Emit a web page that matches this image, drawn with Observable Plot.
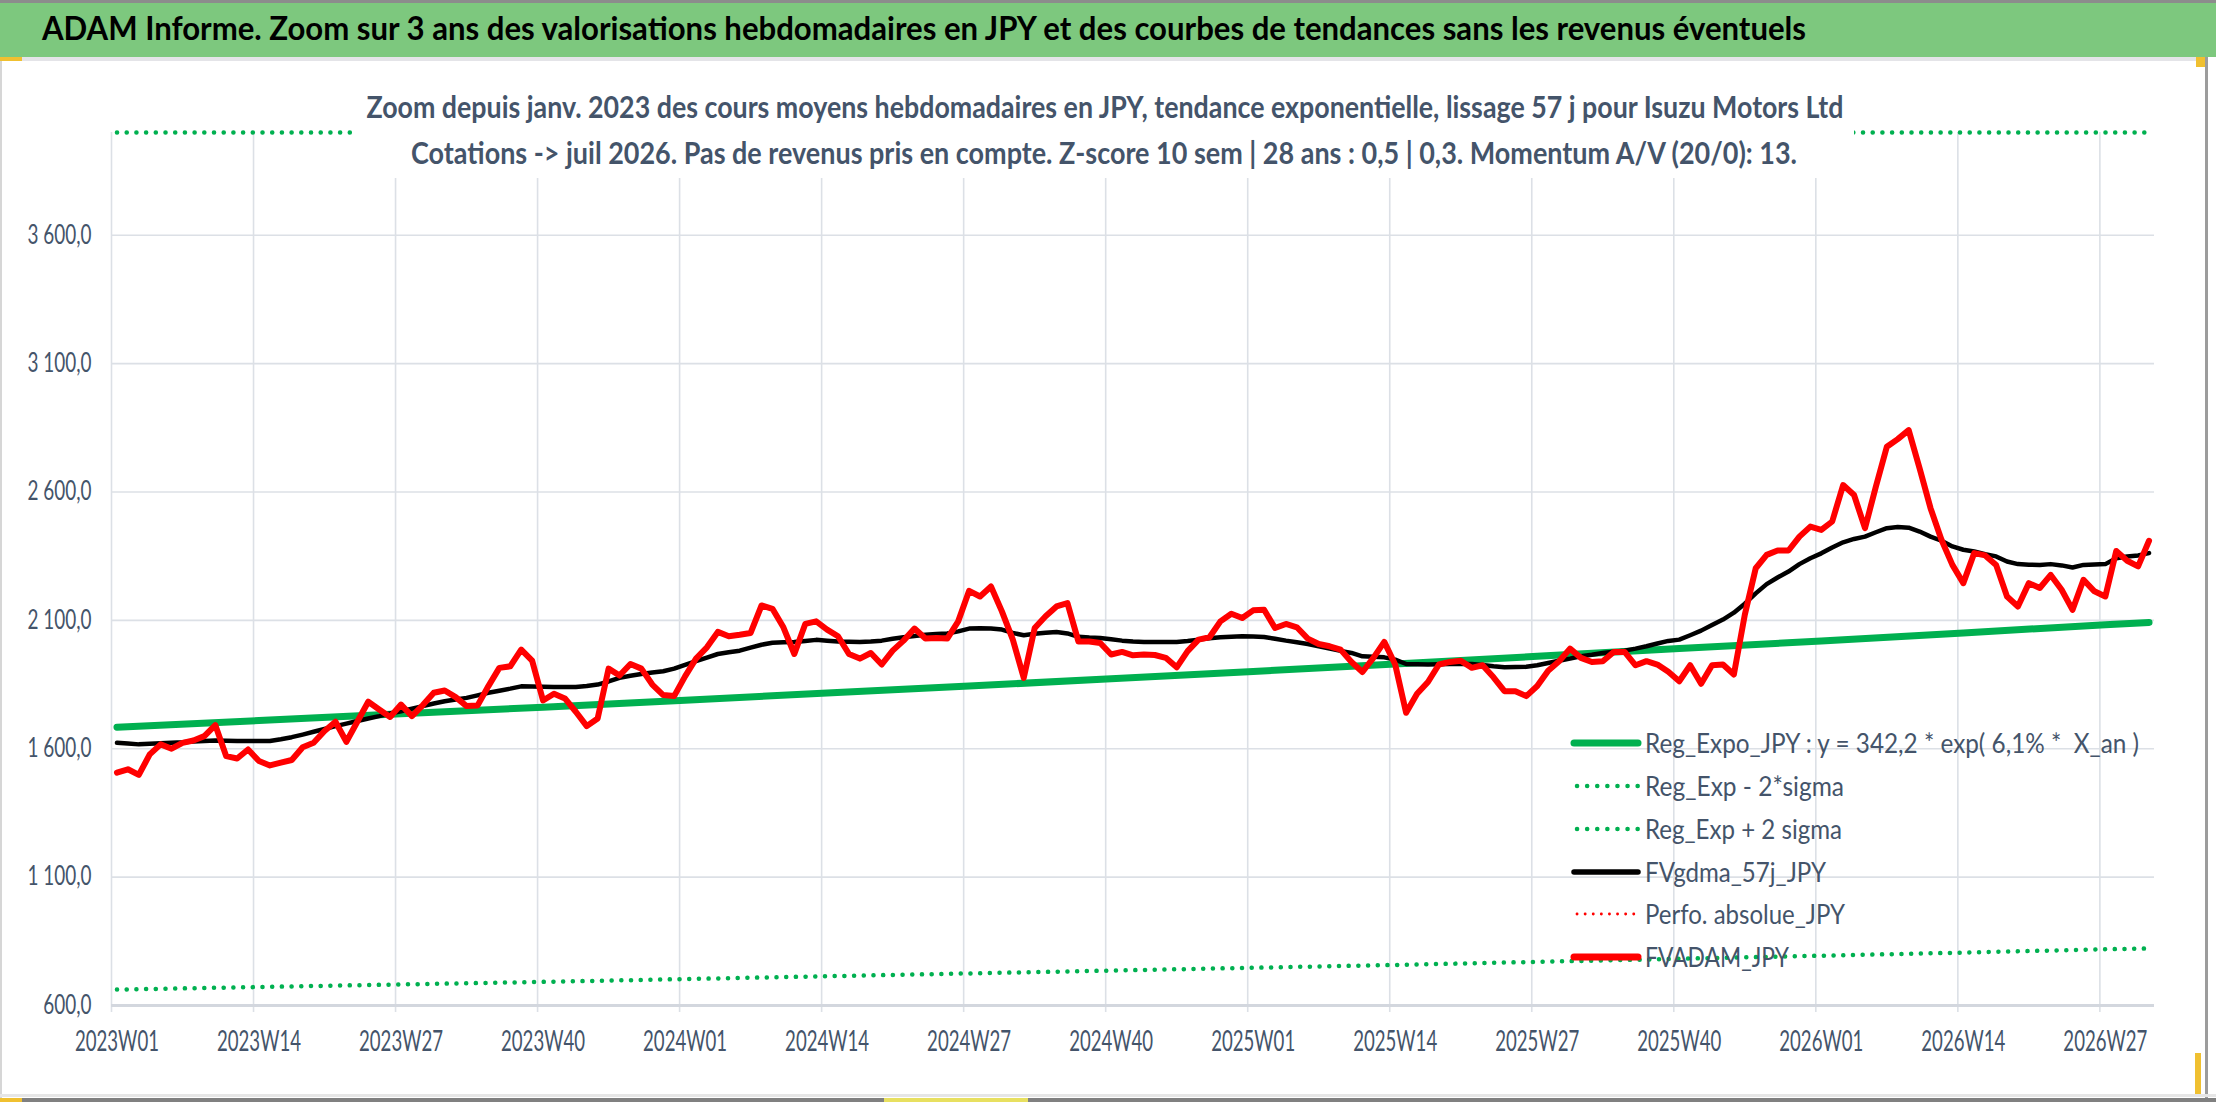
<!DOCTYPE html>
<html><head><meta charset="utf-8">
<script src="https://cdn.jsdelivr.net/npm/d3@7"></script>
<script src="https://cdn.jsdelivr.net/npm/@observablehq/plot@0.6"></script>
<style>
html,body{margin:0;padding:0;background:#fff;}
#wrap{position:relative;width:2216px;height:1102px;overflow:hidden;background:#fff;}
#wrap > svg{position:absolute;left:0;top:0;}
</style></head><body><div id="wrap"></div>
<script>
// ---------- data ----------
const weekLabels = ["2023W01","2023W14","2023W27","2023W40","2024W01","2024W14","2024W27","2024W40","2025W01","2025W14","2025W27","2025W40","2026W01","2026W14","2026W27"];
const tickIdx = [0,13,26,39,52,65,78,91,104,117,130,143,156,169,182];
const yTicks = [600,1100,1600,2100,2600,3100,3600];

// FVADAM_JPY weekly values (2023W01 .. 2026W31)
const fvadam = [
1507,1520,1498,1578,1617,1600,1623,1632,1649,1692,1571,1562,1597,1552,1535,1546,1556,1606,1623,1669,
1705,1627,1705,1783,1753,1724,1772,1727,1770,1818,1827,1801,1766,1768,1844,1915,1921,1986,1943,1788,
1814,1796,1744,1688,1718,1912,1885,1930,1912,1850,1809,1805,1882,1951,1995,2055,2038,2044,2051,2158,
2145,2073,1969,2086,2096,2064,2038,1969,1951,1973,1928,1982,2021,2068,2029,2031,2029,2096,2215,2193,
2232,2135,2025,1876,2070,2116,2154,2167,2018,2018,2012,1967,1977,1964,1967,1965,1954,1917,1980,2025,
2034,2096,2126,2109,2139,2141,2070,2086,2073,2029,2008,1999,1986,1938,1899,1954,2016,1928,1740,1814,
1860,1928,1938,1943,1915,1925,1878,1824,1824,1805,1844,1904,1941,1990,1954,1938,1941,1977,1977,1925,
1941,1928,1900,1863,1925,1853,1925,1928,1889,2122,2303,2355,2372,2372,2426,2465,2452,2485,2627,2588,
2459,2621,2776,2806,2841,2692,2537,2414,2316,2245,2362,2353,2316,2193,2154,2245,2226,2277,2219,2141,
2258,2213,2193,2370,2332,2310,2410];

// FVgdma_57j_JPY weekly values
const fvgdma = [
1623,1620,1617,1619,1621,1623,1625,1628,1630,1632,1631,1630,1630,1630,1630,1637,1645,1655,1666,1677,
1688,1698,1708,1718,1727,1737,1746,1756,1766,1776,1785,1792,1798,1808,1818,1826,1834,1843,1842,1841,
1840,1840,1840,1844,1850,1862,1876,1884,1891,1897,1902,1912,1927,1941,1955,1969,1976,1982,1994,2005,
2013,2015,2016,2020,2024,2021,2018,2017,2016,2018,2021,2028,2034,2039,2044,2047,2049,2057,2068,2069,
2068,2064,2051,2042,2048,2052,2055,2049,2036,2033,2031,2026,2021,2018,2016,2016,2016,2016,2020,2025,
2030,2034,2036,2038,2037,2035,2028,2021,2015,2008,1999,1990,1981,1973,1960,1958,1956,1947,1930,1929,
1928,1929,1930,1930,1930,1926,1921,1917,1918,1919,1925,1934,1943,1951,1960,1966,1973,1978,1982,1990,
1999,2010,2020,2025,2042,2060,2082,2103,2130,2165,2205,2241,2267,2290,2319,2342,2361,2384,2404,2417,
2426,2443,2459,2464,2461,2446,2426,2410,2388,2375,2368,2358,2349,2329,2319,2317,2316,2319,2314,2306,
2316,2318,2319,2342,2349,2353,2362];

// Regression (exponential trend) and ±2 sigma envelopes, read at tick weeks + last week
const regIdx = [0,13,26,39,52,65,78,91,104,117,130,143,156,169,182,186];
const regVal = [1684,1710,1736,1762,1789,1817,1844,1873,1901,1930,1960,1990,2020,2051,2083,2092];
const sigLo  = [662,672,682,692,703,714,725,736,747,758,770,782,794,806,819,822];
const sigHi  = [4285,4351,4417,4483,4552,4623,4692,4766,4837,4911,4987,5064,5140,5219,5300,5323];

const legendItems = [
  {label: "Reg_Expo_JPY : y = 342,2 * exp( 6,1% *  X_an )", color: "#00B050", width: 7, dash: null, tl: 494},
  {label: "Reg_Exp - 2*sigma", color: "#00B050", width: 4.5, dash: "0.1 10", tl: 199},
  {label: "Reg_Exp + 2 sigma", color: "#00B050", width: 4.5, dash: "0.1 10", tl: 197},
  {label: "FVgdma_57j_JPY", color: "#000000", width: 5.5, dash: null, tl: 181},
  {label: "Perfo. absolue_JPY", color: "#FF0000", width: 2.8, dash: "0.1 8", tl: 200},
  {label: "FVADAM_JPY", color: "#FF0000", width: 7, dash: null, tl: 144}
];

const titleText = "ADAM Informe. Zoom sur 3 ans des valorisations hebdomadaires en JPY et des courbes de tendances sans les revenus éventuels";
const subtitle1 = "Zoom depuis janv. 2023 des cours moyens hebdomadaires en JPY, tendance exponentielle, lissage 57 j pour Isuzu Motors Ltd";
const subtitle2 = "Cotations -> juil 2026. Pas de revenus pris en compte. Z-score 10 sem | 28 ans : 0,5 | 0,3. Momentum A/V (20/0): 13.";

// ---------- build ----------
const FONT = "Lato, 'Open Sans', 'Noto Sans', sans-serif";
const TXT = "#44546A";
const GRID = "#DCE0E6";
const fr = d3.formatLocale({decimal: ",", thousands: "\u00a0", grouping: [3]}).format(",.1f");

const adam = fvadam.map((v, i) => ({i, v}));
const gdma = fvgdma.map((v, i) => ({i, v}));
const reg = regIdx.map((i, k) => ({i, v: regVal[k], lo: sigLo[k], hi: sigHi[k]}));
const yMax = 4000;

const plot = Plot.plot({
  width: 2216, height: 1102,
  marginLeft: 111, marginRight: 62, marginTop: 132, marginBottom: 97,
  x: {domain: [-0.5, 186.5], label: null},
  y: {domain: [600, yMax], label: null},
  style: {fontFamily: FONT, background: "transparent", overflow: "visible"},
  marks: [
    Plot.ruleY(yTicks.filter(t => t > 600), {stroke: GRID, strokeWidth: 1.6}),
    Plot.ruleX(tickIdx.map(i => i - 0.5), {y1: 600, y2: yMax, stroke: GRID, strokeWidth: 1.6}),
    Plot.axisX({ticks: tickIdx.map(i => i - 0.5), tickSize: 7, tickFormat: () => "", label: null, stroke: GRID, strokeWidth: 1.6}),
    Plot.ruleY([600], {stroke: "#D3D7DE", strokeWidth: 3}),
    Plot.axisX({ticks: tickIdx, tickSize: 0, tickPadding: 26, label: null, tickFormat: d => weekLabels[tickIdx.indexOf(d)], fontSize: 28, fill: TXT}),
    Plot.axisY({ticks: yTicks, tickSize: 0, tickPadding: 20, label: null, tickFormat: fr, fontSize: 26, fill: TXT}),
    Plot.lineY(reg, {x: "i", y: "v", stroke: "#00B050", strokeWidth: 7}),
    Plot.lineY(reg, {x: "i", y: "lo", stroke: "#00B050", strokeWidth: 4.5, strokeDasharray: "0.1 9.6", strokeLinecap: "round"}),
    Plot.lineY(reg, {x: "i", y: d => Math.min(d.hi, yMax), stroke: "#00B050", strokeWidth: 4.5, strokeDasharray: "0.1 9.6", strokeLinecap: "round"}),
    Plot.lineY(gdma, {x: "i", y: "v", stroke: "#000000", strokeWidth: 4.5, strokeLinejoin: "round"}),
    Plot.lineY(adam, {x: "i", y: "v", stroke: "#FF0000", strokeWidth: 6, strokeLinejoin: "round"})
  ]
});

const wrap = document.getElementById("wrap");
wrap.appendChild(plot);

// condense axis labels horizontally (Calibri-like narrow proportions)
const txts = Array.from(plot.querySelectorAll("text"));
const xl = txts.filter(t => /W\d\d$/.test(t.textContent));
const yl = txts.filter(t => /,\d$/.test(t.textContent));
function condense(list, sample, target) {
  const s = list.find(t => t.textContent.replace(/\s/g, " ") === sample) || list[0];
  if (!s) return;
  const f = target / s.getComputedTextLength();
  list.forEach(t => {
    const n = t.getComputedTextLength();
    t.setAttribute("textLength", (n * f).toFixed(1));
    t.setAttribute("lengthAdjust", "spacingAndGlyphs");
  });
}
condense(xl, "2023W01", 84);
condense(yl, "3 600,0", 64);

// ---------- overlay: frame, title, subtitle, legend ----------
const ov = d3.create("svg").attr("width", 2216).attr("height", 1102)
  .style("font-family", FONT).style("pointer-events", "none");
wrap.appendChild(ov.node());

ov.append("rect").attr("x", 0).attr("y", 0).attr("width", 2216).attr("height", 3).attr("fill", "#8C8C8C");
ov.append("rect").attr("x", 0).attr("y", 3).attr("width", 2216).attr("height", 54).attr("fill", "#7DC87E");
ov.append("rect").attr("x", 0).attr("y", 57).attr("width", 2216).attr("height", 4).attr("fill", "#E4E4E8");
ov.append("rect").attr("x", 0).attr("y", 57).attr("width", 22).attr("height", 4).attr("fill", "#F0C030");
ov.append("rect").attr("x", 0).attr("y", 61).attr("width", 2).attr("height", 1040).attr("fill", "#D6D6D6");
ov.append("rect").attr("x", 2203).attr("y", 57).attr("width", 13).attr("height", 1045).attr("fill", "#FFFFFF");
ov.append("rect").attr("x", 2205).attr("y", 57).attr("width", 3).attr("height", 1045).attr("fill", "#9C9C9C");
ov.append("rect").attr("x", 2196).attr("y", 57).attr("width", 9).attr("height", 10).attr("fill", "#F0C030");
ov.append("rect").attr("x", 2195).attr("y", 1053).attr("width", 6).attr("height", 44).attr("fill", "#F0C030");
ov.append("rect").attr("x", 0).attr("y", 1094).attr("width", 2216).attr("height", 3).attr("fill", "#E6E6E6");
ov.append("rect").attr("x", 0).attr("y", 1098).attr("width", 2216).attr("height", 4).attr("fill", "#808080");
ov.append("rect").attr("x", 0).attr("y", 1098).attr("width", 22).attr("height", 4).attr("fill", "#F0C030");
ov.append("rect").attr("x", 884).attr("y", 1098).attr("width", 144).attr("height", 4).attr("fill", "#E8E060");

function addText(g, txt, x, y, size, weight, fill, anchor, tl) {
  const t = g.append("text").attr("x", x).attr("y", y).attr("font-size", size)
    .attr("font-weight", weight).attr("fill", fill).attr("text-anchor", anchor)
    .style("white-space", "pre").text(txt);
  if (tl) t.attr("textLength", tl).attr("lengthAdjust", "spacingAndGlyphs");
  return t;
}

addText(ov, titleText, 42, 40, 32, 700, "#000000", "start", 1764);

// subtitle box hides grid and top-clamped envelope behind it
ov.append("rect").attr("x", 357).attr("y", 62).attr("width", 1497).attr("height", 116).attr("fill", "#FFFFFF");
addText(ov, subtitle1, 1105, 118, 30, 700, TXT, "middle", 1477);
addText(ov, subtitle2, 1104, 164, 30, 700, TXT, "middle", 1386);

// legend
const rowsY = [743, 786, 829, 872, 914, 957];
legendItems.forEach((d, k) => {
  const cy = rowsY[k];
  const ln = ov.append("line").attr("x1", d.dash ? 1577 : 1574).attr("x2", 1638).attr("y1", cy).attr("y2", cy)
    .attr("stroke", d.color).attr("stroke-width", d.width).attr("stroke-linecap", "round");
  if (d.dash) ln.attr("stroke-dasharray", d.dash);
  addText(ov, d.label, 1645, cy + 10, 27, 400, TXT, "start", d.tl);
});
</script>
</body></html>
